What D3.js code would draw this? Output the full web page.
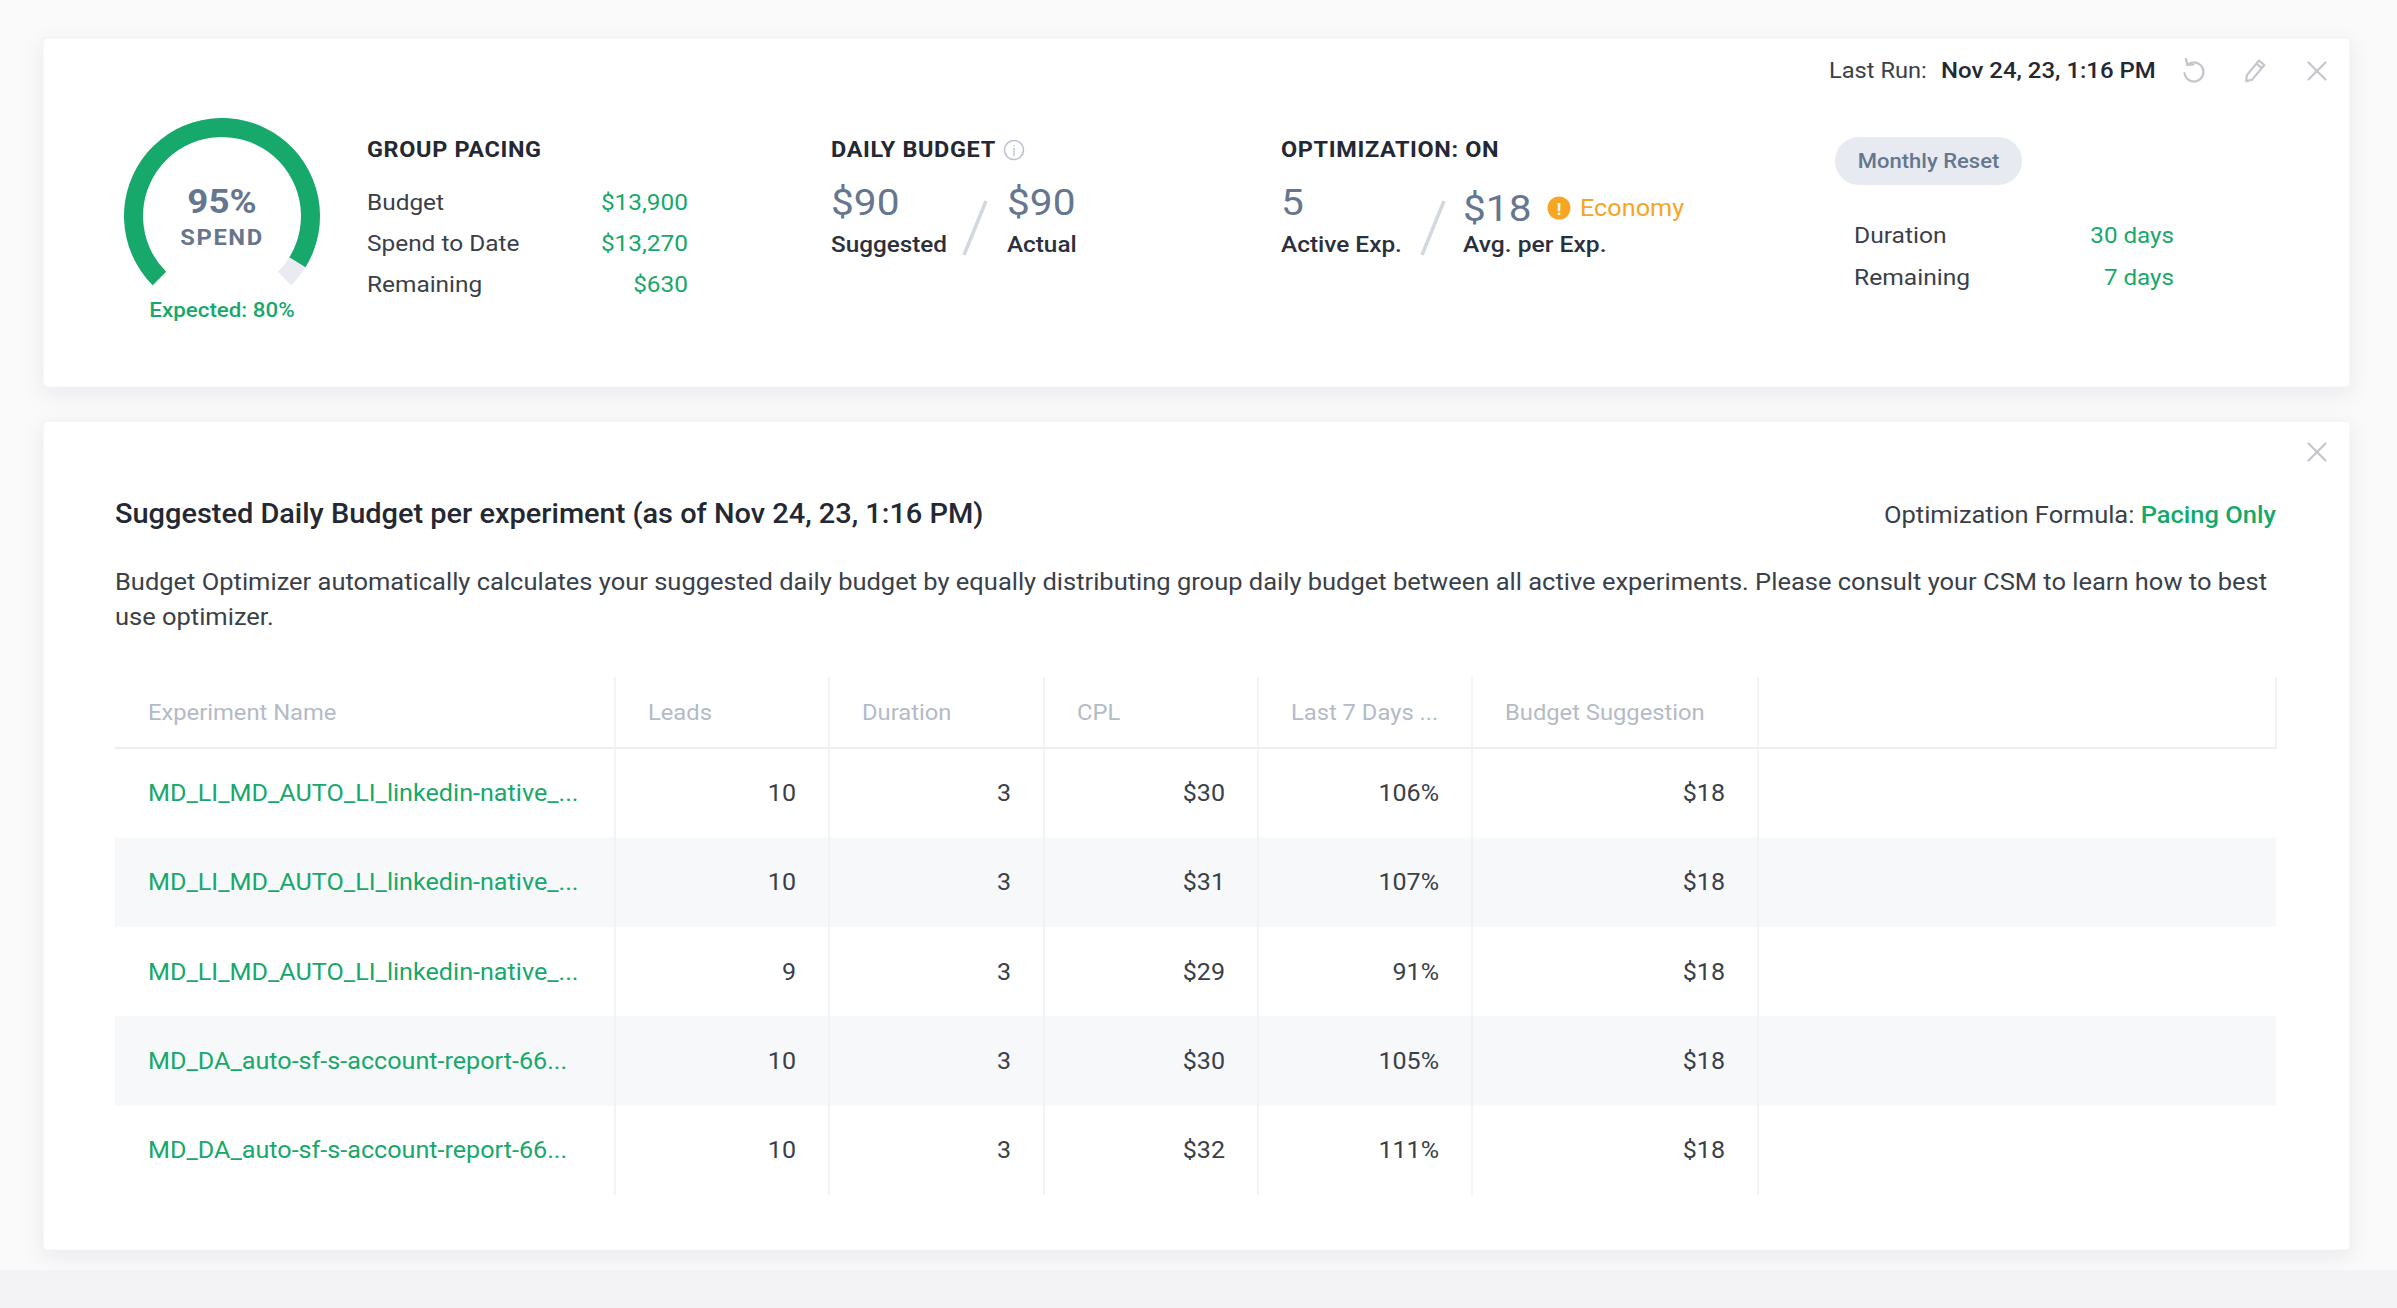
<!DOCTYPE html>
<html>
<head>
<meta charset="utf-8">
<script src="https://cdn.jsdelivr.net/npm/d3@7"></script>
<style>
  html, body { margin: 0; padding: 0; background: #fafafb; }
  svg { display: block; font-family: Roboto, "Noto Sans", sans-serif; }
</style>
</head>
<body>
<svg id="chart" width="2397" height="1308"></svg>
<script>
// ---- data ----
var spendPct = 95;
var expectedPct = 80;
var pacingLabels = ['Budget', 'Spend to Date', 'Remaining'];
var pacingValues = [13900, 13270, 630];
var dailyLabels = ['Suggested', 'Actual'];
var dailyValues = [90, 90];
var activeExp = 5;
var avgPerExp = 18;
var resetLabels = ['Duration', 'Remaining'];
var resetDays = [30, 7];
var lastRun = 'Nov 24, 23, 1:16 PM';

var columns = ['Experiment Name', 'Leads', 'Duration', 'CPL', 'Last 7 Days ...', 'Budget Suggestion'];
var expNames = [
  'MD_LI_MD_AUTO_LI_linkedin-native_...',
  'MD_LI_MD_AUTO_LI_linkedin-native_...',
  'MD_LI_MD_AUTO_LI_linkedin-native_...',
  'MD_DA_auto-sf-s-account-report-66...',
  'MD_DA_auto-sf-s-account-report-66...'
];
var leads = [10, 10, 9, 10, 10];
var durations = [3, 3, 3, 3, 3];
var cpl = [30, 31, 29, 30, 32];
var last7 = [106, 107, 91, 105, 111];
var suggestion = [18, 18, 18, 18, 18];

var green = '#17a86b';
var slate = '#66768f';
var dark = '#232833';
var body = '#3a3f4a';
var money = d3.format('$,');
var SX = 1.08; // the screenshot's text runs a bit wider than plain Roboto

var svg = d3.select('#chart');

// text helper: positioned through a transform so it can be widened a little
function txt(parent, x, y, size, fill, t) {
  return parent.append('text')
    .attr('transform', 'translate(' + x + ',' + y + ') scale(' + SX + ',1)')
    .attr('font-size', size).attr('fill', fill).text(t);
}

// shadow for the cards
var defs = svg.append('defs');
var f = defs.append('filter').attr('id', 'shadow')
  .attr('x', '-5%').attr('y', '-10%').attr('width', '110%').attr('height', '125%');
f.append('feDropShadow').attr('dx', 0).attr('dy', 6).attr('stdDeviation', 10)
  .attr('flood-color', '#1c2640').attr('flood-opacity', 0.07);

svg.append('rect').attr('x', 0).attr('y', 1270).attr('width', 2397).attr('height', 38)
  .attr('fill', '#f3f3f5');

// cards
svg.append('rect').attr('x', 43).attr('y', 38).attr('width', 2307).attr('height', 349)
  .attr('rx', 4).attr('fill', '#fff').attr('stroke', '#eef0f4').attr('filter', 'url(#shadow)');
svg.append('rect').attr('x', 43).attr('y', 421).attr('width', 2307).attr('height', 829)
  .attr('rx', 4).attr('fill', '#fff').attr('stroke', '#eef0f4').attr('filter', 'url(#shadow)');

// ---- gauge ----
var angle = d3.scaleLinear().domain([0, 100]).range([-0.75 * Math.PI, 0.75 * Math.PI]);
var arc = d3.arc().innerRadius(79).outerRadius(98);
var gauge = svg.append('g').attr('transform', 'translate(222,216)');
gauge.append('path')
  .attr('d', arc({ startAngle: angle(0), endAngle: angle(100) }))
  .attr('fill', '#e9ebf1');
gauge.append('path')
  .attr('d', arc({ startAngle: angle(0), endAngle: angle(spendPct) }))
  .attr('fill', green);
txt(gauge, 0, -3, 34, slate, spendPct + '%')
  .attr('text-anchor', 'middle').attr('font-weight', 700);
txt(gauge, 0, 29, 22, slate, 'SPEND')
  .attr('text-anchor', 'middle').attr('font-weight', 700).attr('letter-spacing', 1.5);
txt(gauge, 0, 101, 20.7, green, 'Expected: ' + expectedPct + '%')
  .attr('text-anchor', 'middle').attr('font-weight', 500);

// ---- section headings ----
function heading(x, t) {
  return txt(svg, x, 157, 21.7, dark, t).attr('font-weight', 700).attr('letter-spacing', 0.6);
}
heading(367, 'GROUP PACING');
heading(831, 'DAILY BUDGET');
heading(1281, 'OPTIMIZATION: ON');

// info icon
var info = svg.append('g').attr('transform', 'translate(1014,150)');
info.append('circle').attr('r', 9.5).attr('fill', 'none').attr('stroke', '#bcc2cc').attr('stroke-width', 1.6);
info.append('text').attr('y', 5.5).attr('text-anchor', 'middle').attr('font-size', 14)
  .attr('fill', '#bcc2cc').text('i');

// group pacing rows
var pacingY = d3.scalePoint().domain(pacingLabels).range([210, 292]);
pacingLabels.forEach(function (l, i) {
  txt(svg, 367, pacingY(l), 22.6, body, l);
  txt(svg, 688, pacingY(l), 22.6, green, money(pacingValues[i])).attr('text-anchor', 'end');
});

// daily budget
var dailyX = [831, 1007];
dailyValues.forEach(function (v, i) {
  txt(svg, dailyX[i], 215, 37.6, slate, money(v));
  txt(svg, dailyX[i], 252, 22.5, '#2b313c', dailyLabels[i]).attr('font-weight', 500);
});
function slash(x) {
  svg.append('line').attr('x1', x + 11).attr('y1', 201).attr('x2', x - 11).attr('y2', 255)
    .attr('stroke', '#d3d8e0').attr('stroke-width', 3.5);
}
slash(975);
slash(1433);

// optimization
txt(svg, 1281, 215, 37.6, slate, activeExp);
txt(svg, 1281, 252, 22.6, '#2b313c', 'Active Exp.').attr('font-weight', 500);
txt(svg, 1463, 221, 37.6, slate, money(avgPerExp));
txt(svg, 1463, 252, 22.8, '#2b313c', 'Avg. per Exp.').attr('font-weight', 500);
var warn = svg.append('g').attr('transform', 'translate(1559,208)');
warn.append('circle').attr('r', 11.5).attr('fill', '#f6a623');
warn.append('text').attr('y', 6.5).attr('text-anchor', 'middle').attr('font-size', 17)
  .attr('font-weight', 700).attr('fill', '#fff').text('!');
txt(svg, 1580, 216, 23.4, '#f6a623', 'Economy');

// last run + icons
txt(svg, 1829, 78, 21.9, body, 'Last Run:');
txt(svg, 1941, 78, 22.2, dark, lastRun).attr('font-weight', 500);
var iconColor = '#c3c7cd';
var undo = svg.append('g').attr('transform', 'translate(2194,72)')
  .attr('fill', 'none').attr('stroke', iconColor).attr('stroke-width', 2.2).attr('stroke-linecap', 'round');
undo.append('path').attr('d', 'M -6.5 -7 A 9.5 9.5 0 1 1 -9.5 1');
undo.append('path').attr('d', 'M -8 -13 L -6.5 -7 L -0.5 -7.5');
var pencil = svg.append('g').attr('transform', 'translate(2254,72) rotate(40)')
  .attr('fill', 'none').attr('stroke', iconColor).attr('stroke-width', 2.2).attr('stroke-linejoin', 'round');
pencil.append('path').attr('d', 'M -3.5 -12 L 3.5 -12 L 3.5 7 L 0 12 L -3.5 7 Z');
pencil.append('line').attr('x1', -3.5).attr('y1', -8).attr('x2', 3.5).attr('y2', -8);
function closeX(cx, cy) {
  var g = svg.append('g').attr('transform', 'translate(' + cx + ',' + cy + ')')
    .attr('stroke', iconColor).attr('stroke-width', 2.2).attr('stroke-linecap', 'round');
  g.append('line').attr('x1', -8.5).attr('y1', -8.5).attr('x2', 8.5).attr('y2', 8.5);
  g.append('line').attr('x1', 8.5).attr('y1', -8.5).attr('x2', -8.5).attr('y2', 8.5);
}
closeX(2317, 71);
closeX(2317, 452);

// monthly reset
svg.append('rect').attr('x', 1835).attr('y', 137).attr('width', 187).attr('height', 48)
  .attr('rx', 24).attr('fill', '#e7eaf0');
txt(svg, 1928.5, 168, 20.4, slate, 'Monthly Reset').attr('text-anchor', 'middle').attr('font-weight', 500);
var resetY = d3.scalePoint().domain(resetLabels).range([243, 285]);
resetLabels.forEach(function (l, i) {
  txt(svg, 1854, resetY(l), 22.8, body, l);
  txt(svg, 2174, resetY(l), 22.4, green, resetDays[i] + ' days').attr('text-anchor', 'end');
});

// ---- lower card ----
txt(svg, 115, 523, 26.8, dark, 'Suggested Daily Budget per experiment (as of ' + lastRun + ')')
  .attr('font-weight', 500);
var formula = txt(svg, 2276, 523, 23.6, body, null).attr('text-anchor', 'end');
formula.append('tspan').text('Optimization Formula: ');
formula.append('tspan').attr('fill', green).attr('font-weight', 500).text('Pacing Only');

var desc = ['Budget Optimizer automatically calculates your suggested daily budget by equally distributing group daily budget between all active experiments. Please consult your CSM to learn how to best',
  'use optimizer.'];
desc.forEach(function (d, i) {
  txt(svg, 115, 590 + i * 35, 23.6, body, d);
});

// table
var edges = [115, 615, 829, 1044, 1258, 1472, 1758, 2276];
var headTop = 677, headBottom = 748;
var rowY = d3.scaleBand().domain(d3.range(expNames.length)).range([headBottom, 1195]);
var table = svg.append('g');

table.selectAll('.zebra').data(d3.range(expNames.length).filter(function (i) { return i % 2 === 1; }))
  .enter().append('rect')
  .attr('x', edges[0]).attr('width', edges[7] - edges[0])
  .attr('y', function (i) { return rowY(i); }).attr('height', rowY.bandwidth())
  .attr('fill', '#f7f8fa');

table.selectAll('.vdiv').data(edges.slice(1, 7)).enter().append('line')
  .attr('x1', function (d) { return d; }).attr('x2', function (d) { return d; })
  .attr('y1', headTop).attr('y2', 1195).attr('stroke', '#eef0f4').attr('stroke-width', 1.5);
table.append('line').attr('x1', edges[7]).attr('x2', edges[7]).attr('y1', headTop).attr('y2', headBottom)
  .attr('stroke', '#eef0f4').attr('stroke-width', 1.5);
table.append('line').attr('x1', edges[0]).attr('x2', edges[7]).attr('y1', headBottom).attr('y2', headBottom)
  .attr('stroke', '#eceef2').attr('stroke-width', 2);

columns.forEach(function (c, i) {
  txt(table, edges[i] + 33, 720, 22, '#b4bac6', c);
});

var numCols = [leads, durations, cpl, last7, suggestion];
var numFmt = [String, String, money, function (v) { return v + '%'; }, money];
expNames.forEach(function (n, r) {
  var y = rowY(r) + rowY.bandwidth() / 2 + 8;
  txt(table, 148, y, 23.3, green, n);
  numCols.forEach(function (col, c) {
    txt(table, edges[c + 2] - 33, y, 23.2, body, numFmt[c](col[r])).attr('text-anchor', 'end');
  });
});
</script>
</body>
</html>
